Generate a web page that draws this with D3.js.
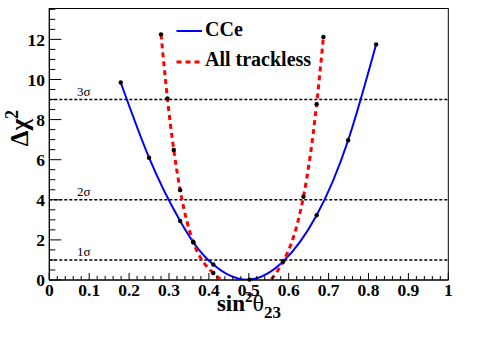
<!DOCTYPE html>
<html>
<head>
<meta charset="utf-8">
<script src="https://cdn.jsdelivr.net/npm/d3@7"></script>
<style>
    body { margin: 0; background: #fff; }
    svg { display: block; }
</style>
</head>
<body>
<svg class="chart"></svg>
<script>
// chart data
var cceX = [0.179, 0.25, 0.328, 0.361, 0.411, 0.502, 0.586, 0.67, 0.749, 0.819];
var cceY = [9.85, 6.1, 2.94, 1.88, 0.77, 0.02, 0.92, 3.23, 6.97, 11.75];
var tracklessX = [0.28, 0.296, 0.312, 0.328, 0.361, 0.411, 0.586, 0.637, 0.67, 0.687];
var tracklessY = [12.25, 9.06, 6.48, 4.48, 1.88, 0.35, 0.92, 4.15, 8.77, 12.12];
var sigmaLevels = [1, 4, 9];
var sigmaLabels = ['1σ', '2σ', '3σ'];
var xTicks = [0, 0.1, 0.2, 0.3, 0.4, 0.5, 0.6, 0.7, 0.8, 0.9, 1];
var yTicks = [0, 2, 4, 6, 8, 10, 12];
var seriesNames = ['CCe', 'All trackless'];

(function () {
    var width = 498, height = 339;
    var left = 49.3, right = 448.3, top = 8.5, bottom = 280;
    var serif = '"Liberation Serif", "DejaVu Serif", "Times New Roman", Times, serif';

    var svg = d3.select('.chart')
        .attr('width', width).attr('height', height)
        .attr('font-family', serif)
        .style('font-family', serif);

    var x = d3.scaleLinear().domain([0, 1]).range([left, right]);
    var y = d3.scaleLinear().domain([0, 13.54]).range([bottom, top]);

    // natural cubic spline with x as the parameter (like ROOT's smooth graph option),
    // written as a d3 curve factory so it can be used by d3.line
    function curveSplineX(context) {
        var xs, ys;
        return {
            areaStart: function () {},
            areaEnd: function () {},
            lineStart: function () { xs = []; ys = []; },
            point: function (px, py) { xs.push(+px); ys.push(+py); },
            lineEnd: function () {
                var n = xs.length, i;
                if (!n) return;
                context.moveTo(xs[0], ys[0]);
                if (n < 3) {
                    for (i = 1; i < n; i++) context.lineTo(xs[i], ys[i]);
                    return;
                }
                var h = [], s = [];
                for (i = 0; i < n - 1; i++) {
                    h.push(xs[i + 1] - xs[i]);
                    s.push((ys[i + 1] - ys[i]) / h[i]);
                }
                // tridiagonal solve for second derivatives, natural ends
                var M = new Array(n).fill(0);
                var a = [], b = [], c = [], r = [];
                for (i = 1; i < n - 1; i++) {
                    a.push(h[i - 1]);
                    b.push(2 * (h[i - 1] + h[i]));
                    c.push(h[i]);
                    r.push(6 * (s[i] - s[i - 1]));
                }
                var m = b.length;
                for (i = 1; i < m; i++) {
                    var w = a[i] / b[i - 1];
                    b[i] -= w * c[i - 1];
                    r[i] -= w * r[i - 1];
                }
                var sol = new Array(m);
                sol[m - 1] = r[m - 1] / b[m - 1];
                for (i = m - 2; i >= 0; i--) sol[i] = (r[i] - c[i] * sol[i + 1]) / b[i];
                for (i = 0; i < m; i++) M[i + 1] = sol[i];

                for (i = 0; i < n - 1; i++) {
                    var m0 = s[i] - h[i] * (2 * M[i] + M[i + 1]) / 6;
                    var m1 = s[i] + h[i] * (M[i] + 2 * M[i + 1]) / 6;
                    context.bezierCurveTo(
                        xs[i] + h[i] / 3, ys[i] + m0 * h[i] / 3,
                        xs[i + 1] - h[i] / 3, ys[i + 1] - m1 * h[i] / 3,
                        xs[i + 1], ys[i + 1]);
                }
            }
        };
    }

    // clip the smooth curves to the frame
    svg.append('clipPath').attr('id', 'frame')
        .append('rect')
            .attr('x', left).attr('y', top)
            .attr('width', right - left).attr('height', bottom - top);

    // sigma lines
    svg.selectAll('.sigma')
        .data(sigmaLevels)
        .enter().append('line')
            .attr('x1', left).attr('x2', right)
            .attr('y1', function (d) { return y(d); })
            .attr('y2', function (d) { return y(d); })
            .attr('stroke', '#000')
            .attr('stroke-width', 1.4)
            .attr('stroke-dasharray', '3,2');

    svg.selectAll('.sigma-label')
        .data(sigmaLevels)
        .enter().append('text')
            .attr('x', 77)
            .attr('y', function (d) { return y(d) - 4; })
            .attr('font-size', 13)
            .text(function (d, i) { return sigmaLabels[i]; });

    var line = d3.line()
        .x(function (d) { return x(d[0]); })
        .y(function (d) { return y(d[1]); })
        .curve(curveSplineX);

    var cce = d3.zip(cceX, cceY);
    var trackless = d3.zip(tracklessX, tracklessY);

    var plot = svg.append('g').attr('clip-path', 'url(#frame)');

    plot.append('path')
        .attr('d', line(cce))
        .attr('fill', 'none')
        .attr('stroke', '#0000ff')
        .attr('stroke-width', 2);

    plot.append('path')
        .attr('d', line(trackless))
        .attr('fill', 'none')
        .attr('stroke', '#ff0000')
        .attr('stroke-width', 3)
        .attr('stroke-dasharray', '5,4');

    // markers
    svg.selectAll('.dot')
        .data(cce.concat(trackless))
        .enter().append('circle')
            .attr('cx', function (d) { return x(d[0]); })
            .attr('cy', function (d) { return y(d[1]); })
            .attr('r', 2.2)
            .attr('fill', '#000');

    // axes, ROOT style: ticks pointing inward
    var xAxis = svg.append('g').attr('transform', 'translate(0,' + bottom + ')');
    xAxis.append('line').attr('x1', left).attr('x2', right).attr('stroke', '#000');
    xAxis.selectAll('.minor')
        .data(d3.range(0, 51).map(function (i) { return i / 50; }))
        .enter().append('line')
            .attr('x1', function (d) { return x(d); })
            .attr('x2', function (d) { return x(d); })
            .attr('y1', 0)
            .attr('y2', function (d, i) { return i % 5 === 0 ? -7 : -4; })
            .attr('stroke', '#000');
    xAxis.selectAll('.label')
        .data(xTicks)
        .enter().append('text')
            .attr('x', function (d) { return x(d); })
            .attr('y', 16)
            .attr('text-anchor', 'middle')
            .attr('font-size', 17.5)
            .attr('font-weight', 'bold')
            .text(function (d) { return d3.format('')(d); });

    var yAxis = svg.append('g');
    yAxis.append('line').attr('x1', left).attr('x2', left)
        .attr('y1', bottom).attr('y2', top).attr('stroke', '#000');
    yAxis.selectAll('.minor')
        .data(d3.range(0, 28).map(function (i) { return i / 2; }))
        .enter().append('line')
            .attr('y1', function (d) { return y(d); })
            .attr('y2', function (d) { return y(d); })
            .attr('x1', left)
            .attr('x2', function (d, i) { return left + (i % 4 === 0 ? 12 : 6); })
            .attr('stroke', '#000');
    yAxis.selectAll('.label')
        .data(yTicks)
        .enter().append('text')
            .attr('x', 45)
            .attr('y', function (d) { return y(d); })
            .attr('dy', '0.35em')
            .attr('text-anchor', 'end')
            .attr('font-size', 17.5)
            .attr('font-weight', 'bold')
            .text(function (d) { return d; });

    // frame
    svg.append('rect')
        .attr('x', left).attr('y', top)
        .attr('width', right - left).attr('height', bottom - top)
        .attr('fill', 'none')
        .attr('stroke', '#000');

    // axis titles
    var xTitle = svg.append('text')
        .attr('x', 249).attr('y', 311)
        .attr('text-anchor', 'middle')
        .attr('font-size', 23)
        .attr('font-weight', 'bold');
    xTitle.append('tspan').text('sin');
    xTitle.append('tspan').attr('dy', -9).attr('font-size', 15).text('2');
    xTitle.append('tspan').attr('dy', 9).attr('font-weight', 'normal').attr('font-size', 24).text('θ');
    xTitle.append('tspan').attr('dy', 7).attr('font-size', 17).text('23');

    var yTitle = svg.append('text')
        .attr('transform', 'translate(28,110) rotate(-90)')
        .attr('text-anchor', 'end')
        .attr('font-size', 25)
        .attr('font-weight', 'bold');
    yTitle.append('tspan').text('Δχ');
    yTitle.append('tspan').attr('dy', -10).attr('font-size', 18).text('2');

    // legend
    var legend = svg.append('g');
    var legendColors = ['#0000ff', '#ff0000'];
    legend.selectAll('line')
        .data(seriesNames)
        .enter().append('line')
            .attr('x1', 176.5).attr('x2', 202)
            .attr('y1', function (d, i) { return 31 + i * 31; })
            .attr('y2', function (d, i) { return 31 + i * 31; })
            .attr('stroke', function (d, i) { return legendColors[i]; })
            .attr('stroke-width', function (d, i) { return i ? 3 : 2; })
            .attr('stroke-dasharray', function (d, i) { return i ? '5,4' : null; });
    legend.selectAll('text')
        .data(seriesNames)
        .enter().append('text')
            .attr('x', 205)
            .attr('y', function (d, i) { return 35.5 + i * 30.5; })
            .attr('font-size', 20)
            .attr('font-weight', 'bold')
            .text(function (d) { return d; });
}());
</script>
</body>
</html>
